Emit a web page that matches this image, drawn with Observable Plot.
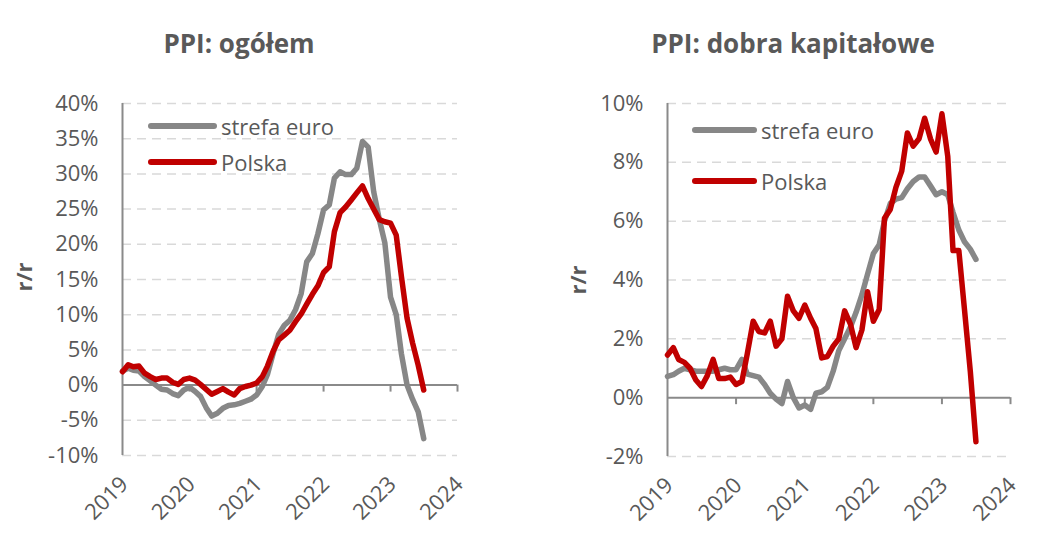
<!DOCTYPE html>
<html>
<head>
<meta charset="utf-8">
<script src="https://cdn.jsdelivr.net/npm/d3@7"></script>
<script src="https://cdn.jsdelivr.net/npm/@observablehq/plot@0.6"></script>
<style>
  html, body { margin: 0; padding: 0; background: #fff; }
  #wrap { position: relative; width: 1048px; height: 560px; font-family: "Open Sans", sans-serif; color: #595959; overflow: hidden; }
  .panel { position: absolute; top: 0; }
  .title { position: absolute; top: 30px; font-weight: bold; font-size: 26px; line-height: 26px; white-space: nowrap; transform: translateX(-50%); color: #595959; }
  .ylab { position: absolute; font-weight: bold; font-size: 22px; line-height: 22px; white-space: nowrap; transform: translate(-50%, -50%) rotate(-90deg); color: #595959; }
  .leg { position: absolute; display: flex; align-items: center; font-size: 22px; line-height: 22px; white-space: nowrap; transform: translateY(-50%); color: #595959; }
  .leg .bar { height: 6px; border-radius: 3px; margin-right: 4px; }
</style>
</head>
<body>
<div id="wrap"></div>
<script>
// ---- data (monthly, Jan 2019 .. Jul 2023) ----
const startMonth = new Date(Date.UTC(2019, 0, 1));
const endMonth = new Date(Date.UTC(2023, 7, 1));
const months = d3.utcMonth.range(startMonth, endMonth);

const years = [2019, 2020, 2021, 2022, 2023, 2024];

// PPI: ogółem (r/r, %)
const ogolemEuro = [
  2.0, 2.4, 2.1, 2.0, 1.2, 0.6, 0.0, -0.6, -0.7, -1.2, -1.5, -0.7,
  -0.3, -0.9, -1.6, -3.2, -4.4, -4.0, -3.3, -2.9, -2.8, -2.6, -2.3, -2.0,
  -1.4, -0.2, 1.5, 4.5, 7.2, 8.5, 9.2, 10.7, 13.0, 17.5, 18.7, 21.5,
  24.9, 25.6, 29.4, 30.3, 29.9, 29.9, 30.8, 34.6, 33.8, 27.5, 23.5, 20.2,
  12.5, 10.0, 4.5, 0.0, -2.0, -3.8, -7.6
];
const ogolemPolska = [
  1.9, 2.9, 2.6, 2.7, 1.7, 1.2, 0.8, 1.0, 1.0, 0.4, 0.1, 0.8,
  1.0, 0.7, 0.1, -0.6, -1.3, -0.9, -0.5, -1.0, -1.4, -0.5, -0.2, 0.0,
  0.3, 1.2, 2.7, 4.8, 6.4, 7.1, 7.8, 9.0, 10.1, 11.5, 12.9, 14.1,
  16.0, 16.8, 21.8, 24.5, 25.3, 26.3, 27.3, 28.3, 26.5, 25.0, 23.5, 23.2,
  23.0, 21.3, 15.5, 9.5, 6.0, 2.8, -0.7
];

// PPI: dobra kapitałowe (r/r, %)
const kapitEuro = [
  0.72, 0.78, 0.9, 1.0, 0.95, 0.9, 0.9, 0.9, 0.9, 0.95, 1.0, 0.95,
  0.95, 1.3, 0.8, 0.75, 0.7, 0.45, 0.15, -0.05, -0.2, 0.55, 0.0, -0.35,
  -0.25, -0.4, 0.15, 0.2, 0.35, 0.9, 1.6, 2.0, 2.4, 2.9, 3.5, 4.2,
  4.9, 5.2, 6.0, 6.6, 6.75, 6.8, 7.1, 7.35, 7.5, 7.5, 7.2, 6.9,
  7.0, 6.9, 6.3, 5.7, 5.3, 5.05, 4.7
];
const kapitPolska = [
  1.45, 1.7, 1.3, 1.2, 1.0, 0.6, 0.38, 0.75, 1.3, 0.65, 0.65, 0.7,
  0.45, 0.55, 1.5, 2.6, 2.25, 2.2, 2.6, 1.75, 2.0, 3.45, 2.95, 2.7,
  3.15, 2.7, 2.35, 1.35, 1.4, 1.75, 2.0, 2.95, 2.5, 1.7, 2.3, 3.6,
  2.6, 3.0, 6.1, 6.4, 7.15, 7.7, 9.0, 8.55, 8.8, 9.5, 8.8, 8.35,
  9.65, 8.2, 5.0, 5.0, 3.0, 0.9, -1.5
];

const seriesNames = ["strefa euro", "Polska"];
const seriesColors = ["#878787", "#c00000"];

const ogolemTicks = [-10, -5, 0, 5, 10, 15, 20, 25, 30, 35, 40];
const kapitTicks = [-2, 0, 2, 4, 6, 8, 10];

const titles = ["PPI: ogółem", "PPI: dobra kapitałowe"];
const yLabel = "r/r";

// ---- helpers ----
const yearDate = y => new Date(Date.UTC(y, 0, 1));

function makeChart({euro, polska, ticks, width, height, margins, tickLenPx}) {
  const rows = [];
  months.forEach((m, i) => rows.push({date: m, value: euro[i], series: seriesNames[0]}));
  months.forEach((m, i) => rows.push({date: m, value: polska[i], series: seriesNames[1]}));
  const yDomain = [ticks[0], ticks[ticks.length - 1]];
  const pxPerUnit = (height - margins.top - margins.bottom) / (yDomain[1] - yDomain[0]);
  const tickLen = tickLenPx / pxPerUnit;
  const yearDates = years.map(yearDate);
  return Plot.plot({
    width, height,
    marginLeft: margins.left, marginRight: margins.right,
    marginTop: margins.top, marginBottom: margins.bottom,
    style: {fontFamily: "'Open Sans', sans-serif", fontSize: "22px", color: "#595959", background: "transparent", overflow: "visible"},
    x: {type: "utc", domain: [yearDates[0], yearDates[yearDates.length - 1]]},
    y: {domain: yDomain},
    color: {domain: seriesNames, range: seriesColors},
    marks: [
      Plot.ruleY(ticks.filter(t => t !== 0), {y: d => d, stroke: "#d9d9d9", strokeWidth: 1.5, strokeDasharray: "9,6"}),
      Plot.ruleY([0], {stroke: "#8a8a8a", strokeWidth: 2}),
      Plot.ruleX(yearDates.slice(1), {x: d => d, y1: 0, y2: -tickLen, stroke: "#8a8a8a", strokeWidth: 2}),
      Plot.ruleX([yearDates[0]], {x: d => d, y1: yDomain[0], y2: yDomain[1], stroke: "#8a8a8a", strokeWidth: 2}),
      Plot.line(rows, {x: "date", y: "value", z: "series", stroke: "series", strokeWidth: 5.5, strokeLinejoin: "round", strokeLinecap: "round"}),
      Plot.axisY({ticks, tickFormat: d => d + "%", tickSize: 0, tickPadding: 24, label: null}),
      Plot.axisX({ticks: yearDates, tickFormat: d => String(d.getUTCFullYear()), tickSize: 0, tickPadding: 25, tickRotate: -45, dx: 2, label: null})
    ]
  });
}

const wrap = document.getElementById("wrap");

const panels = [
  {x: 0, euro: ogolemEuro, polska: ogolemPolska, ticks: ogolemTicks, width: 524,
   margins: {left: 122, right: 67, top: 103, bottom: 105}, tickLenPx: 7,
   titleX: 239, ylabX: 23, ylabY: 277, legX: 148, legY: [126, 162], legW: 69},
  {x: 524, euro: kapitEuro, polska: kapitPolska, ticks: kapitTicks, width: 524,
   margins: {left: 143, right: 38, top: 103, bottom: 104}, tickLenPx: 7,
   titleX: 793, ylabX: 577, ylabY: 280, legX: 692, legY: [130, 181], legW: 65}
];

panels.forEach((p, k) => {
  const div = document.createElement("div");
  div.className = "panel";
  div.style.left = p.x + "px";
  div.appendChild(makeChart({euro: p.euro, polska: p.polska, ticks: p.ticks, width: p.width, height: 560, margins: p.margins, tickLenPx: p.tickLenPx}));
  wrap.appendChild(div);

  const t = document.createElement("div");
  t.className = "title";
  t.style.left = p.titleX + "px";
  t.textContent = titles[k];
  wrap.appendChild(t);

  const yl = document.createElement("div");
  yl.className = "ylab";
  yl.style.left = p.ylabX + "px";
  yl.style.top = p.ylabY + "px";
  yl.textContent = yLabel;
  wrap.appendChild(yl);

  seriesNames.forEach((name, i) => {
    const lg = document.createElement("div");
    lg.className = "leg";
    lg.style.left = p.legX + "px";
    lg.style.top = p.legY[i] + "px";
    const bar = document.createElement("span");
    bar.className = "bar";
    bar.style.width = p.legW + "px";
    bar.style.background = seriesColors[i];
    const txt = document.createElement("span");
    txt.textContent = name;
    lg.appendChild(bar);
    lg.appendChild(txt);
    wrap.appendChild(lg);
  });
});
</script>
</body>
</html>
